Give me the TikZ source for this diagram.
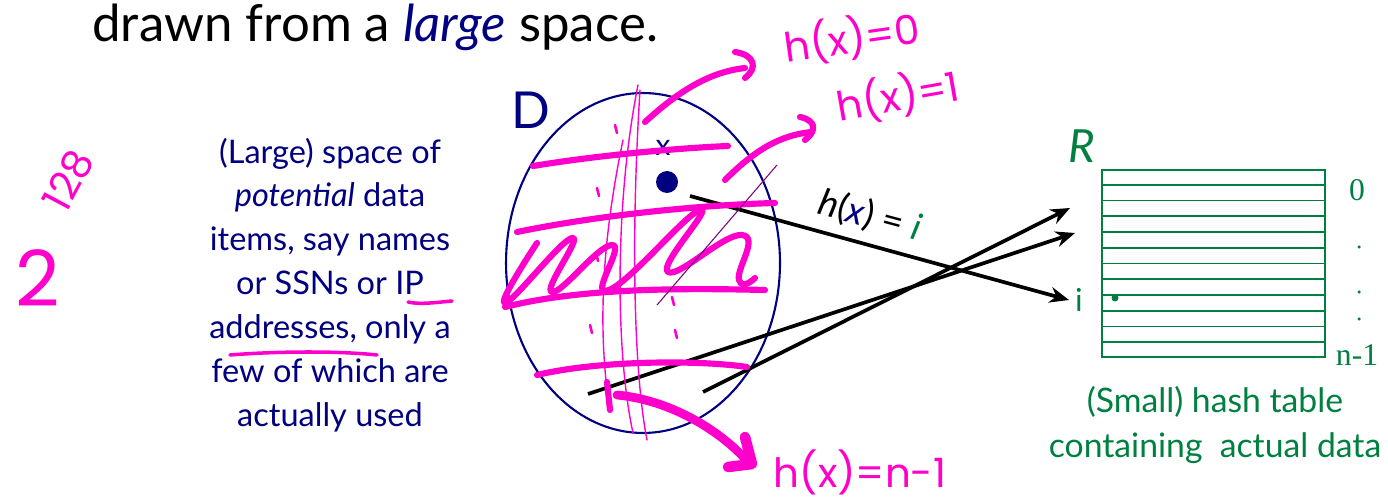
\documentclass[tikz,border=0pt]{standalone}
\usepackage{fontspec}
\setmainfont{Lato}
\newfontfamily\numfont{Liberation Serif}
\newfontfamily\handfont{Poppins}
\usetikzlibrary{arrows.meta,calc}
\definecolor{navy}{RGB}{0,0,128}
\definecolor{tablegreen}{RGB}{0,128,64}
\definecolor{ink}{RGB}{255,0,204}
\tikzset{
  blurb/.style={align=center, font=\fontsize{18.5}{25}\selectfont},
  hashline/.style={draw=black, line width=2.1pt, -{Stealth[length=11pt,width=9pt]}},
  pen/.style={ink, line width=3.5pt, line cap=round, line join=round},
  thinpen/.style={ink, line width=0.8pt, line cap=round},
  scrawl/.style={ink, inner sep=0, font=\handfont\fontsize{23}{23}\selectfont},
  rowline/.style={tablegreen, line width=1pt},
}
\begin{document}
\begin{tikzpicture}[x=0.02cm, y=-0.02cm]
\useasboundingbox (0,0) rectangle (1388,499);

% Title line
\node[anchor=base west, inner sep=0, font=\fontsize{29}{30}\selectfont] (title) at (92,42)
  {drawn from a \textcolor{navy}{\textit{large}} space.};

% Domain D
\draw[navy, line width=1.2pt] (643,263) ellipse [x radius=2.74cm, y radius=3.4cm];
\node[navy, font=\fontsize{29}{29}\selectfont] (D) at (531,110) {D};
\node[navy, font=\fontsize{17}{17}\selectfont] (xlabel) at (663,148) {x};
\fill[navy] (667,182) circle [radius=0.22cm];
\coordinate (dot) at (667,182);
\node[blurb, navy] (blurb) at (330,285)
  {(Large) space of\\ \textit{potential} data\\ items, say names\\ or SSNs or IP\\
   addresses, only a\\ few of which are\\ actually used};

% Range R
\node[draw=tablegreen, line width=1pt, minimum width=4.46cm, minimum height=3.74cm, inner sep=0]
  (table) at (1213.5,263.5) {};
\foreach \k in {1,...,11}
  \draw[rowline] ($(table.north west)!\k/12!(table.south west)$) -- ($(table.north east)!\k/12!(table.south east)$);
\node[tablegreen, font=\itshape\fontsize{26}{26}\selectfont] (R) at (1082,146) {R};
\node[tablegreen, font=\numfont\fontsize{18}{18}\selectfont] (zero) at (1357,190) {0};
\node[tablegreen, font=\numfont\fontsize{18}{18}\selectfont] (last) at (1357,355) {n-1};
\foreach \y in {247,292,319}
  \fill[tablegreen] (1359,\y) circle [radius=0.035cm];
\node[tablegreen, font=\fontsize{18}{18}\selectfont] (ilabel) at (1079,300) {i};
\fill[tablegreen] (1115,298) circle [radius=0.07cm];
\node[blurb, tablegreen, font=\fontsize{19.2}{25.5}\selectfont] (caption) at (1215,425)
  {(Small) hash table\\ containing\ \ actual data};

% Hash arrows
\coordinate (src1) at (690,196);
\coordinate (src2) at (588,394);
\coordinate (src3) at (703,392);
\coordinate (tgt2) at (1075,233);
\coordinate (tgt3) at (1070,208);
\draw[hashline] (src1) -- (ilabel.west);
\draw[hashline] (src2) -- (tgt2);
\draw[hashline] (src3) -- (tgt3);
\node[rotate=-15, font=\fontsize{21}{21}\selectfont] (hx) at (870,216)
  {\textit{h}(\textcolor{navy}{\textit{x}}) = \textcolor{tablegreen}{\textit{i}}};

% Pen notes
\draw[pen] (533,166) .. controls (600,155) and (680,148) .. (728,146);
\draw[pen] (517,232) .. controls (600,215) and (700,205) .. (775,203);
\draw[pen] (505,307) .. controls (580,288) and (680,288) .. (765,290);
\draw[pen] (537,375) .. controls (600,360) and (700,360) .. (747,367);
\draw[pen] plot[smooth, tension=0.9] coordinates
  {(537,243) (505,303) (572,238) (552,292) (612,245) (609,290) (700,210) (668,272) (742,235) (739,280) (755,278)};
\draw[thinpen] (638,85) .. controls (615,200) and (615,350) .. (633,433);
\draw[thinpen] (623,140) .. controls (600,250) and (600,330) .. (607,390);
\draw[thinpen] (640,90) .. controls (630,250) and (635,380) .. (647,440);
\draw[violet, line width=0.6pt] (657,305) -- (777,165);
\foreach \p in {(615,125),(597,188),(596,253),(590,325),(672,297),(675,330)}
  \draw[ink, line width=1.5pt, line cap=round] \p -- ++(2,8);

\draw[pen] (645,122) .. controls (680,90) and (710,72) .. (745,68);
\draw[pen] (735,52) .. controls (755,55) and (758,68) .. (745,78);
\node[scrawl, rotate=8] (hzero) at (852,38) {h(x)=0};

\draw[pen] (725,180) .. controls (755,150) and (780,135) .. (812,132);
\draw[pen] (800,117) .. controls (815,120) and (818,130) .. (805,140);
\node[scrawl, rotate=10] (hone) at (898,96) {h(x)=1};

\draw[pen] (607,382) -- (610,410);
\draw[pen, line width=5pt] (617,395) .. controls (670,400) and (720,430) .. (748,462);
\draw[pen, line width=6pt] (745,437) -- (752,464) -- (728,467);
\node[scrawl] (hlast) at (860,472) {h(x)=n-1};

\draw[pen, line width=2pt] (408,302) .. controls (420,305) and (440,302) .. (452,301);
\draw[pen, line width=2pt] (230,355) .. controls (280,351) and (340,351) .. (377,355);

\node[scrawl, font=\handfont\fontsize{44}{44}\selectfont] (two) at (38,278) {2};
\node[scrawl, rotate=62, font=\handfont\fontsize{23}{23}\selectfont] (power) at (68,180) {128};

\end{tikzpicture}
\end{document}
